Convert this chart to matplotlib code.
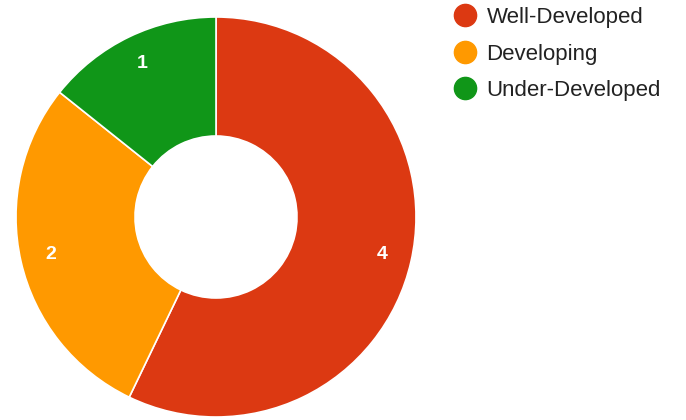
import matplotlib
matplotlib.use("Agg")
import matplotlib.pyplot as plt
from matplotlib.lines import Line2D

plt.rcParams["font.family"] = ["Liberation Sans", "DejaVu Sans"]

labels = ["Well-Developed", "Developing", "Under-Developed"]
counts = [4, 2, 1]
colors = ["#dc3912", "#ff9900", "#109618"]

W, H = 686, 420
fig = plt.figure(figsize=(W / 100, H / 100), dpi=100)

# donut centred at (216, 217) px, outer radius 200 px
cx, cy, r = 216, 217, 200
ax = fig.add_axes([(cx - r) / W, (H - cy - r) / H, 2 * r / W, 2 * r / H])
total = sum(counts)
wedges, _, autotexts = ax.pie(
    counts,
    colors=colors,
    startangle=90,
    counterclock=False,
    radius=1.0,
    wedgeprops=dict(width=0.595, edgecolor="white", linewidth=1.2),
    autopct=lambda p: f"{round(p * total / 100)}",
    pctdistance=0.85,
    textprops=dict(color="white", fontsize=14, fontweight="bold"),
)
ax.set_xlim(-1, 1)
ax.set_ylim(-1, 1)
ax.set_aspect("equal")
ax.axis("off")

handles = [Line2D([0], [0], marker="o", linestyle="", markersize=16,
                  markerfacecolor=c, markeredgecolor=c) for c in colors]
fig.legend(handles, labels, loc="upper left", bbox_to_anchor=(441 / W, 1 + 4 / H),
           frameon=False, fontsize=16, labelspacing=0.70, handletextpad=0.35,
           handlelength=1.2, borderpad=0, labelcolor="#222222")

fig.savefig("out.png", dpi=100)
